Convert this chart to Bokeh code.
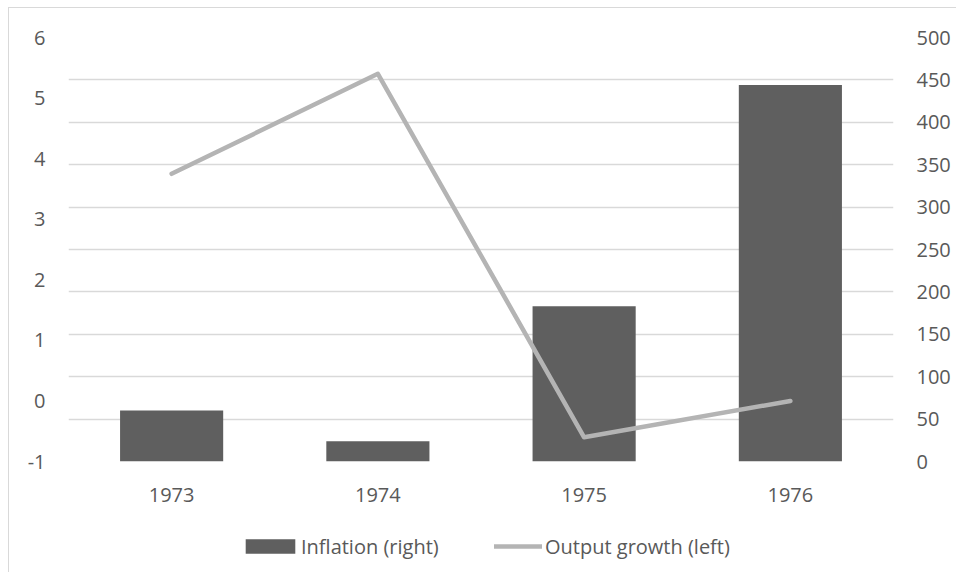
from bokeh.plotting import figure
from bokeh.layouts import column
from bokeh.models import (FactorRange, Range1d, LinearAxis, FixedTicker, Legend,
                          LegendItem, ColumnDataSource)
from bokeh.embed import file_html
from bokeh.resources import INLINE

# ---- data ----
years = ["1973", "1974", "1975", "1976"]
inflation = [60, 24, 183, 444]          # right axis
output_growth = [3.75, 5.4, -0.6, 0.0]  # left axis
right_ticks = [0, 50, 100, 150, 200, 250, 300, 350, 400, 450, 500]
left_ticks = [-1, 0, 1, 2, 3, 4, 5, 6]
series_names = ["Inflation (right)", "Output growth (left)"]

FONT = "Open Sans"
TXT = "#595959"
BAR_COLOR = "#5f5f5f"
LINE_COLOR = "#b4b4b4"

src = ColumnDataSource(dict(year=years, inflation=inflation, growth=output_growth))

W = 947
p = figure(x_range=FactorRange(*years), y_range=Range1d(0, 500),
           width=W, height=512, output_backend="svg", toolbar_location=None,
           y_axis_location="right",
           min_border_left=59, min_border_right=W - 884, min_border_top=29,
           min_border_bottom=59)
right_axis = p.yaxis[0]
right_axis.ticker = FixedTicker(ticks=right_ticks)
p.ygrid.ticker = FixedTicker(ticks=right_ticks)
p.extra_y_ranges = {"growth": Range1d(-1, 6)}
left_axis = LinearAxis(y_range_name="growth", ticker=FixedTicker(ticks=left_ticks))
left_axis.major_label_overrides = {-1: "-1"}
p.add_layout(left_axis, "left")

p.outline_line_color = None
p.xgrid.grid_line_color = None
p.ygrid.grid_line_color = "#d9d9d9"
p.ygrid.grid_line_width = 1.5

for ax in [left_axis, right_axis, p.xaxis[0]]:
    ax.axis_line_color = None
    ax.major_tick_line_color = None
    ax.minor_tick_line_color = None
    ax.major_tick_out = 0
    ax.major_tick_in = 0
    ax.minor_tick_out = 0
    ax.major_label_text_font = FONT
    ax.major_label_text_font_size = "20px"
    ax.major_label_text_color = TXT
left_axis.major_label_standoff = 23
right_axis.major_label_standoff = 23
p.xaxis[0].major_label_standoff = 26

p.vbar(x="year", top="inflation", bottom=0, width=0.5, source=src,
       fill_color=BAR_COLOR, line_color=None)
p.line(x="year", y="growth", source=src, y_range_name="growth",
       line_color=LINE_COLOR, line_width=4.5, line_cap="round", line_join="round")

# ---- legend strip below the chart (same series, view range keeps them out of sight) ----
lp = figure(width=W, height=52, output_backend="svg", toolbar_location=None,
            x_range=FactorRange(*years), y_range=Range1d(1000, 2000),
            x_axis_type=None, y_axis_type=None,
            min_border_left=0, min_border_right=0, min_border_top=0, min_border_bottom=0)
lp.outline_line_color = None
lp.xgrid.visible = False
lp.ygrid.visible = False
key_bar = lp.vbar(x="year", top="inflation", bottom=0, width=0.5, source=src,
                  fill_color=BAR_COLOR, line_color=None)
key_line = lp.line(x="year", y="growth", source=src, line_color=LINE_COLOR,
                   line_width=4.5, line_cap="round")

common = dict(orientation="horizontal", padding=0, margin=0, border_line_color=None,
              background_fill_alpha=0, label_text_font=FONT,
              label_text_font_size="20px", label_text_color=TXT, label_height=28)
leg1 = Legend(items=[LegendItem(label=series_names[0], renderers=[key_bar])],
              location=(171, 12), glyph_width=62, glyph_height=18,
              label_standoff=0, **common)
leg2 = Legend(items=[LegendItem(label=series_names[1], renderers=[key_line])],
              location=(426, 12), glyph_width=48, glyph_height=18,
              label_standoff=3, **common)
lp.add_layout(leg1, "center")
lp.add_layout(leg2, "center")

layout = column(p, lp, spacing=0,
                styles={"border-left": "1px solid #d9d9d9",
                        "border-top": "1px solid #d9d9d9",
                        "margin-left": "8px", "margin-top": "7px"})

open("out.html", "w").write(file_html(layout, INLINE))
